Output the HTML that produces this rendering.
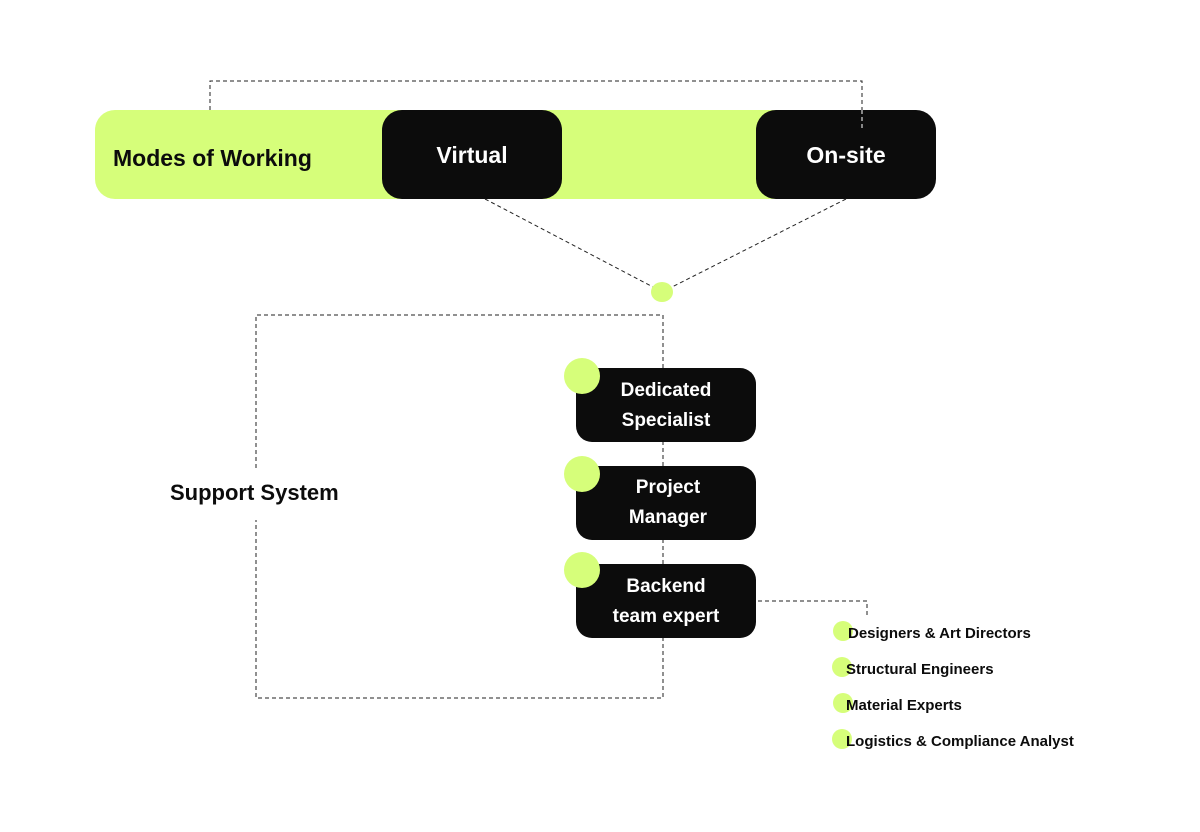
<!DOCTYPE html>
<html><head><meta charset="utf-8"><style>
html,body{margin:0;padding:0;background:#fff;}
svg{display:block;}
text{font-family:"Liberation Sans",sans-serif;font-weight:bold;}
</style></head><body>
<svg width="1200" height="832" viewBox="0 0 1200 832" xmlns="http://www.w3.org/2000/svg">
<rect width="1200" height="832" fill="#fff"/>
<!-- top dashed connector -->
<path d="M210 110 V81 H862 V130" fill="none" stroke="#222" stroke-width="1" stroke-dasharray="4 3"/>
<!-- green bar -->
<rect x="95" y="110" width="700" height="89" rx="20" fill="#D6FE7A"/>
<rect x="382" y="110" width="180" height="89" rx="20" fill="#0c0c0c"/>
<rect x="756" y="110" width="180" height="89" rx="20" fill="#0c0c0c"/>
<path d="M862 110 V130" stroke="#fff" stroke-width="1" stroke-dasharray="4 3"/>
<text x="113" y="166" font-size="23" fill="#0c0c0c">Modes of Working</text>
<text x="472" y="163" font-size="23" fill="#fff" text-anchor="middle">Virtual</text>
<text x="846" y="163" font-size="23" fill="#fff" text-anchor="middle">On-site</text>
<!-- diagonals -->
<path d="M485 199 L653 287 M846 199 L672 287" stroke="#222" stroke-width="1" stroke-dasharray="4 3" fill="none"/>
<ellipse cx="662" cy="292" rx="11" ry="10" fill="#D6FE7A"/>
<!-- support box -->
<path d="M256 468 V315 H663 V698 H256 V520" fill="none" stroke="#222" stroke-width="1" stroke-dasharray="4 3"/>
<text x="170" y="500" font-size="22" fill="#0c0c0c">Support System</text>
<!-- cards -->
<rect x="576" y="368" width="180" height="74" rx="16" fill="#0c0c0c"/>
<rect x="576" y="466" width="180" height="74" rx="16" fill="#0c0c0c"/>
<rect x="576" y="564" width="180" height="74" rx="16" fill="#0c0c0c"/>
<circle cx="582" cy="376" r="18" fill="#D6FE7A"/>
<circle cx="582" cy="474" r="18" fill="#D6FE7A"/>
<circle cx="582" cy="570" r="18" fill="#D6FE7A"/>
<g font-size="19" fill="#fff" text-anchor="middle">
<text x="666" y="396">Dedicated</text><text x="666" y="426">Specialist</text>
<text x="668" y="493">Project</text><text x="668" y="523">Manager</text>
<text x="666" y="592">Backend</text><text x="666" y="622">team expert</text>
</g>
<!-- backend connector -->
<path d="M758 601 H867 V618" fill="none" stroke="#222" stroke-width="1" stroke-dasharray="4 3"/>
<g fill="#D6FE7A">
<circle cx="843" cy="631" r="10"/><circle cx="842" cy="667" r="10"/>
<circle cx="843" cy="703" r="10"/><circle cx="842" cy="739" r="10"/>
</g>
<g font-size="15" fill="#0c0c0c">
<text x="848" y="638">Designers &amp; Art Directors</text>
<text x="846" y="674">Structural Engineers</text>
<text x="846" y="710">Material Experts</text>
<text x="846" y="746">Logistics &amp; Compliance Analyst</text>
</g>
</svg>
</body></html>
